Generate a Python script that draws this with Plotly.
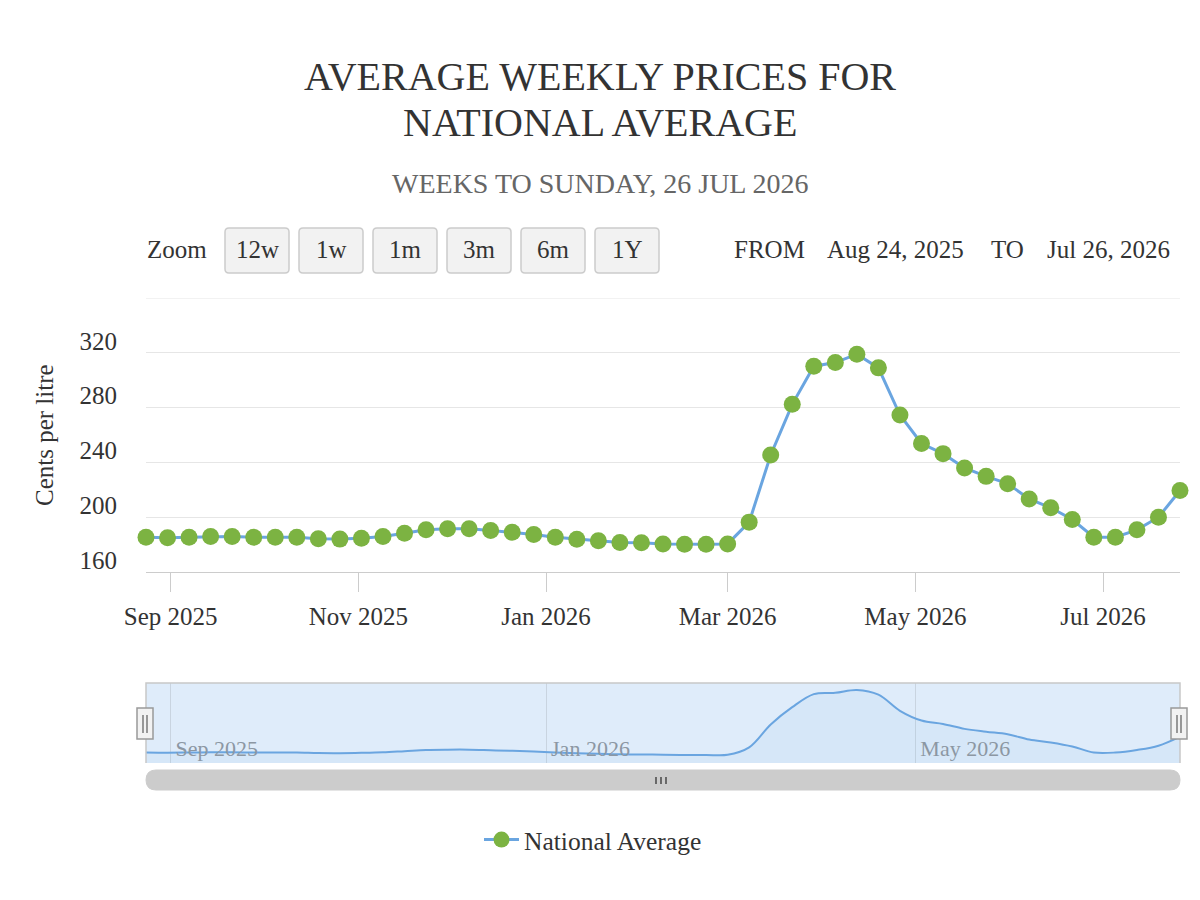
import plotly.graph_objects as go
import pandas as pd

# ---------------- data ----------------
week_ending = pd.date_range("2025-08-24", "2026-07-26", freq="7D")
prices = [185.4, 185.0, 185.4, 185.9, 185.9, 185.4, 185.4, 185.4, 184.2, 184.0,
          184.7, 185.9, 188.3, 190.8, 191.5, 191.5, 190.3, 189.0, 187.4, 185.4,
          183.9, 182.8, 181.5, 181.3, 180.5, 180.3, 180.3, 180.5, 196.4, 245.4,
          282.4, 310.2, 312.9, 319.0, 309.0, 274.6, 253.8, 246.4, 235.9, 229.8,
          224.5, 213.3, 206.9, 198.3, 185.4, 185.4, 190.8, 200.0, 219.5]
series_name = "National Average"
title_lines = ["AVERAGE WEEKLY PRICES FOR", "NATIONAL AVERAGE"]
subtitle = "WEEKS TO SUNDAY, 26 JUL 2026"
y_title = "Cents per litre"
zoom_label = "Zoom"
zoom_buttons = ["12w", "1w", "1m", "3m", "6m", "1Y"]
range_texts = ["FROM", "Aug 24, 2025", "TO", "Jul 26, 2026"]
y_tickvals = [160, 200, 240, 280, 320, 360]
y_ticktext = ["160", "200", "240", "280", "320", ""]

FONT = "Liberation Serif"
LINE_COLOR = "#6aa5e0"
MARKER_COLOR = "#7cb342"

# ---------------- geometry helpers (screen pixel -> paper) ----------------
OFF = 8  # page margin around the figure
W, H = 1200, 900
ML, MR, MT, MB = 138, 28, 290, 145
PW, PH = W - ML - MR, H - MT - MB


def PX(x):
    return (x - OFF - ML) / PW


def PY(y):
    return (H - MB - (y - OFF)) / PH


def rrect(x0, y0, x1, y1, r):
    return (f"M {PX(x0 + r)},{PY(y0)} L {PX(x1 - r)},{PY(y0)} "
            f"Q {PX(x1)},{PY(y0)} {PX(x1)},{PY(y0 + r)} "
            f"L {PX(x1)},{PY(y1 - r)} Q {PX(x1)},{PY(y1)} {PX(x1 - r)},{PY(y1)} "
            f"L {PX(x0 + r)},{PY(y1)} Q {PX(x0)},{PY(y1)} {PX(x0)},{PY(y1 - r)} "
            f"L {PX(x0)},{PY(y0 + r)} Q {PX(x0)},{PY(y0)} {PX(x0 + r)},{PY(y0)} Z")


fig = go.Figure()

# main series
fig.add_trace(go.Scatter(
    x=week_ending, y=prices, name=series_name, mode="lines+markers",
    line=dict(color=LINE_COLOR, width=3),
    marker=dict(color=MARKER_COLOR, size=17, line=dict(width=0)),
    cliponaxis=False, xaxis="x", yaxis="y",
))

# navigator series
fig.add_trace(go.Scatter(
    x=week_ending, y=prices, mode="lines", showlegend=False, hoverinfo="skip",
    line=dict(color=LINE_COLOR, width=2, shape="spline", smoothing=1.0),
    fill="tozeroy", fillcolor="rgba(106,165,224,0.07)",
    xaxis="x2", yaxis="y2",
))

shapes = []
# top grid line of main plot
shapes.append(dict(type="line", xref="x domain", yref="y", x0=0, x1=1,
                   y0=y_tickvals[-1], y1=y_tickvals[-1],
                   line=dict(color="#e6e6e6", width=1), layer="below"))
# navigator background + outline
shapes.append(dict(type="rect", xref="x2 domain", yref="y2 domain", x0=0, x1=1, y0=0, y1=1,
                   fillcolor="#dfecfa", line=dict(width=0), layer="below"))
shapes.append(dict(type="path", xref="x2 domain", yref="y2 domain",
                   path="M 0,0 L 0,1 L 1,1 L 1,0", line=dict(color="#c8c8c8", width=1.5)))
# navigator handles
for hx in (145, 1179):
    shapes.append(dict(type="rect", xref="paper", yref="paper",
                       x0=PX(hx - 8), x1=PX(hx + 8), y0=PY(739), y1=PY(708),
                       fillcolor="#f2f2f2", line=dict(color="#999999", width=1.5)))
    for lx in (hx - 2, hx + 2):
        shapes.append(dict(type="line", xref="paper", yref="paper",
                           x0=PX(lx), x1=PX(lx), y0=PY(733), y1=PY(715),
                           line=dict(color="#666666", width=1.3)))
# scrollbar
shapes.append(dict(type="path", xref="paper", yref="paper", path=rrect(146, 770, 1180, 790, 10),
                   fillcolor="#cccccc", line=dict(color="#cccccc", width=1)))
for gx in (656, 661, 666):
    shapes.append(dict(type="line", xref="paper", yref="paper",
                       x0=PX(gx), x1=PX(gx), y0=PY(784), y1=PY(777),
                       line=dict(color="#333333", width=1.3)))

annotations = []
# title
for txt, yy in zip(title_lines, (77, 122)):
    annotations.append(dict(text=txt, xref="paper", yref="paper", x=PX(600), y=PY(yy),
                            xanchor="center", yanchor="middle", showarrow=False,
                            font=dict(family=FONT, size=40, color="#333333")))
annotations.append(dict(text=subtitle, xref="paper", yref="paper", x=PX(600), y=PY(183),
                        xanchor="center", yanchor="middle", showarrow=False,
                        font=dict(family=FONT, size=28, color="#666666")))
# y axis title
annotations.append(dict(text=y_title, xref="paper", yref="paper", x=PX(44), y=PY(435),
                        xanchor="center", yanchor="middle", showarrow=False, textangle=-90,
                        font=dict(family=FONT, size=25, color="#333333")))
# zoom label and buttons
annotations.append(dict(text=zoom_label, xref="paper", yref="paper", x=PX(145), y=PY(250),
                        xanchor="left", yanchor="middle", showarrow=False,
                        font=dict(family=FONT, size=25, color="#333333")))
for i, b in enumerate(zoom_buttons):
    bx0 = 225 + 74 * i
    bx1 = bx0 + 64
    shapes.append(dict(type="path", xref="paper", yref="paper", path=rrect(bx0, 228, bx1, 273, 4),
                       fillcolor="#f2f2f2", line=dict(color="#cccccc", width=1.5)))
    annotations.append(dict(text=b, xref="paper", yref="paper", x=PX((bx0 + bx1) / 2), y=PY(250),
                            xanchor="center", yanchor="middle", showarrow=False,
                            font=dict(family=FONT, size=25, color="#333333")))
# FROM / TO
for txt, xx in zip(range_texts, (732, 825, 989, 1045)):
    annotations.append(dict(text=txt, xref="paper", yref="paper", x=PX(xx), y=PY(250),
                            xanchor="left", yanchor="middle", showarrow=False,
                            font=dict(family=FONT, size=25, color="#333333")))

fig.update_layout(
    width=W, height=H,
    margin=dict(l=ML, r=MR, t=MT, b=MB),
    paper_bgcolor="white", plot_bgcolor="white",
    font=dict(family=FONT, size=25, color="#333333"),
    showlegend=True,
    legend=dict(orientation="h", x=PX(479), y=PY(840), xanchor="left", yanchor="middle",
                font=dict(family=FONT, size=25.5, color="#333333"), itemwidth=35,
                bgcolor="rgba(0,0,0,0)"),
    xaxis=dict(domain=[0, 1], anchor="y", type="date",
               range=["2025-08-24", "2026-07-26"],
               tick0="2025-09-01", dtick="M2", tickformat="%b %Y",
               showgrid=False, showline=True, linecolor="#cccccc", linewidth=1,
               ticks="outside", ticklen=19, tickcolor="#cccccc", tickwidth=1,
               ticklabelstandoff=3,
               tickfont=dict(family=FONT, size=25, color="#333333"),
               zeroline=False, fixedrange=True),
    yaxis=dict(domain=[PY(572), 1], anchor="x", range=[160, 360],
               tickvals=y_tickvals, ticktext=y_ticktext,
               showgrid=True, gridcolor="#e6e6e6", gridwidth=1,
               zeroline=False, showline=False, ticks="",
               ticklabelstandoff=28, ticklabelshift=-12,
               tickfont=dict(family=FONT, size=25, color="#333333"), fixedrange=True),
    xaxis2=dict(domain=[0, 1], anchor="y2", type="date",
                range=["2025-08-24", "2026-07-26"],
                tick0="2025-09-01", dtick="M4", tickformat="%b %Y",
                showgrid=True, gridcolor="#c9d4e0", gridwidth=1,
                showline=False, ticks="", ticklabelposition="inside right",
                ticklabelstandoff=-3, ticklabelshift=5,
                tickfont=dict(family=FONT, size=22, color="#8c97a3"),
                zeroline=False, fixedrange=True),
    yaxis2=dict(domain=[0, PY(683)], anchor="x2", range=[163, 334],
                showgrid=False, showticklabels=False, zeroline=False, showline=False,
                fixedrange=True),
    shapes=shapes,
    annotations=annotations,
)

fig.write_html("out.html")
